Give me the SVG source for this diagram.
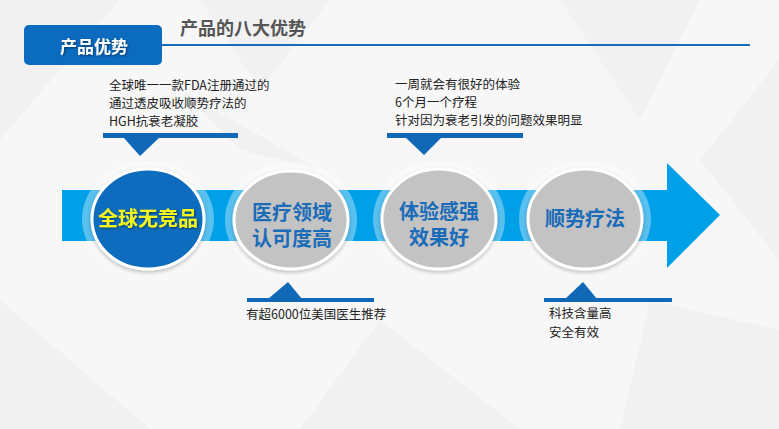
<svg xmlns="http://www.w3.org/2000/svg" width="779" height="429" viewBox="0 0 779 429">
<defs>
<style>
.cn{font-family:"Noto Sans CJK SC","Liberation Sans",sans-serif;}
.small{font-size:12.5px;fill:#222;}
.big{font-size:20px;font-weight:bold;text-anchor:middle;}
.bluet{fill:#1a6cb9;}
.halo{fill:#ffffff;opacity:0.35;}
.ring{stroke:#ffffff;stroke-width:3;}
.gray{fill:#c3c3c3;}
.bar{fill:#1168b7;}
.bg{fill:#e9e9e9;}
</style>
<filter id="sh" x="-20%" y="-20%" width="140%" height="140%">
<feDropShadow dx="1" dy="1" stdDeviation="0.8" flood-color="#000" flood-opacity="0.5"/>
</filter>
<filter id="cs" x="-20%" y="-20%" width="140%" height="140%">
<feDropShadow dx="0" dy="2" stdDeviation="2" flood-color="#000" flood-opacity="0.25"/>
</filter>
</defs>
<rect width="779" height="429" fill="#f7f7f7"/>
<g id="background" opacity="0.4">
<polygon class="bg" points="0,0 120,0 0,140"/>
<polygon class="bg" points="200,0 330,0 260,90"/>
<polygon class="bg" points="560,0 700,0 640,120"/>
<polygon class="bg" points="779,60 779,260 700,160"/>
<polygon class="bg" points="0,300 150,429 0,429"/>
<polygon class="bg" points="380,320 520,429 300,429"/>
<polygon class="bg" points="650,300 779,330 779,429 620,429"/>
<polygon class="bg" points="180,90 320,170 240,150"/>
</g>
<g id="header">
<rect x="24" y="25" width="138" height="40" rx="5" fill="#0b6bbf"/>
<text x="94" y="53" class="cn" font-size="17" font-weight="bold" fill="#ffffff" text-anchor="middle" filter="url(#sh)">产品优势</text>
<text x="180" y="35" class="cn" font-size="18" font-weight="bold" fill="#555555">产品的八大优势</text>
<line x1="162" y1="45" x2="750" y2="45" stroke="#1a6ab8" stroke-width="2"/>
</g>
<g id="connectors">
<rect x="62" y="190" width="610" height="51" fill="#00a0e9"/>
<polygon points="667,163 720,215 667,268" fill="#00a0e9"/>
</g>
<g id="node1">
<ellipse cx="148" cy="219" rx="66" ry="58" class="halo"/>
<ellipse cx="148" cy="219" rx="56" ry="50" fill="#0d6cbd" class="ring" filter="url(#cs)"/>
<text x="148" y="226" class="cn big" fill="#f5f51e" filter="url(#sh)">全球无竞品</text>
</g>
<g id="node2">
<ellipse cx="291" cy="220" rx="66" ry="58" class="halo"/>
<ellipse cx="291" cy="220" rx="57" ry="49" class="gray ring" filter="url(#cs)"/>
<text x="292" y="220" class="cn big bluet">医疗领域</text>
<text x="292" y="246" class="cn big bluet">认可度高</text>
</g>
<g id="node3">
<ellipse cx="439" cy="219" rx="66" ry="58" class="halo"/>
<ellipse cx="439" cy="219" rx="57" ry="50" class="gray ring" filter="url(#cs)"/>
<text x="439" y="219" class="cn big bluet">体验感强</text>
<text x="439" y="245" class="cn big bluet">效果好</text>
</g>
<g id="node4">
<ellipse cx="585" cy="219" rx="66" ry="58" class="halo"/>
<ellipse cx="585" cy="219" rx="57" ry="50" class="gray ring" filter="url(#cs)"/>
<text x="585" y="226" class="cn big bluet">顺势疗法</text>
</g>
<g id="callout1">
<text class="cn small" x="109" y="90">全球唯一一款FDA注册通过的</text>
<text class="cn small" x="109" y="108">通过透皮吸收顺势疗法的</text>
<text class="cn small" x="109" y="126">HGH抗衰老凝胶</text>
<rect x="103" y="133" width="135" height="5" class="bar"/>
<polygon points="123,137 160,137 140,156" class="bar"/>
</g>
<g id="callout2">
<text class="cn small" x="395" y="89">一周就会有很好的体验</text>
<text class="cn small" x="395" y="107">6个月一个疗程</text>
<text class="cn small" x="395" y="125">针对因为衰老引发的问题效果明显</text>
<rect x="387" y="133" width="136" height="5" class="bar"/>
<polygon points="405,137 442,137 424,155" class="bar"/>
</g>
<g id="callout3">
<polygon points="268,299 302,299 288,282" class="bar"/>
<rect x="247" y="298" width="127" height="4" class="bar"/>
<text class="cn small" x="246" y="319">有超6000位美国医生推荐</text>
</g>
<g id="callout4">
<polygon points="565,299 597,299 583,282" class="bar"/>
<rect x="544" y="298" width="128" height="4" class="bar"/>
<text class="cn small" x="549" y="318">科技含量高</text>
<text class="cn small" x="549" y="337">安全有效</text>
</g>
</svg>
